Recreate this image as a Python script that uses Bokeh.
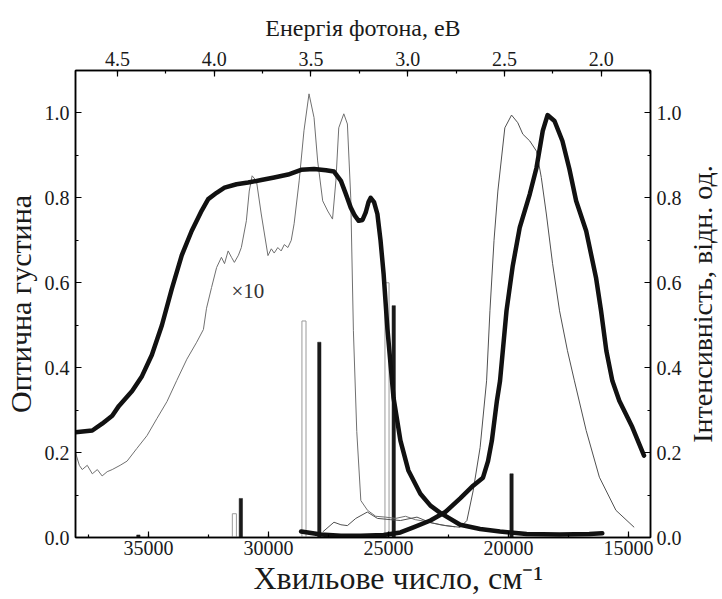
from bokeh.plotting import figure
from bokeh.models import (Range1d, LinearAxis, SingleIntervalTicker, NumeralTickFormatter,
                          Label, Title)
from bokeh.layouts import row
from bokeh.embed import file_html
from bokeh.resources import INLINE

# ---------------- data ----------------
# thick absorption curve (optical density, left axis)
abs_wn = [38040, 37340, 36930, 36510, 36230, 35680, 35270, 34860, 34440, 34030,
          33610, 33200, 32780, 32510, 32160, 31830, 31330, 30850, 30300, 29760,
          29180, 28640, 28100, 27600, 27270, 26980, 26780, 26570, 26400, 26240,
          26080, 25950, 25830, 25740, 25600, 25460, 25330, 25200, 25040, 24790,
          24500, 24170, 23670, 23250, 22840, 22010, 21180, 20350, 19240, 17870,
          16630, 16090]
abs_od = [0.248, 0.252, 0.268, 0.287, 0.31, 0.345, 0.38, 0.43, 0.50, 0.585,
          0.665, 0.722, 0.77, 0.797, 0.812, 0.824, 0.832, 0.836, 0.842, 0.848,
          0.855, 0.866, 0.868, 0.865, 0.862, 0.84, 0.81, 0.777, 0.758, 0.746,
          0.748, 0.765, 0.79, 0.80, 0.79, 0.762, 0.70, 0.62, 0.49, 0.33,
          0.228, 0.158, 0.103, 0.075, 0.058, 0.03, 0.02, 0.014, 0.008, 0.007,
          0.008, 0.01]

# thin absorption curve, x10
abs10_wn = [38040, 37880, 37760, 37550, 37340, 37130, 36930, 36720, 36510, 36180,
            35890, 35480, 35060, 34650, 34230, 33820, 33400, 32990, 32710, 32580,
            32370, 32160, 31960, 31830, 31680, 31540, 31420, 31250, 31130, 30920,
            30800, 30680, 30500, 30300, 30020, 29880, 29760, 29610, 29470, 29340,
            29190, 29050, 28930, 28720, 28520, 28310, 28100, 27950, 27740, 27530,
            27330, 27190, 27070, 26860, 26710, 26570, 26460, 26320, 26150, 25870,
            25530, 25120, 24700, 24290, 23880, 23460, 22840, 22220]
abs10_od = [0.2, 0.17, 0.16, 0.17, 0.15, 0.16, 0.145, 0.155, 0.16, 0.17,
            0.18, 0.21, 0.24, 0.28, 0.32, 0.37, 0.42, 0.46, 0.49, 0.54,
            0.589, 0.636, 0.66, 0.645, 0.675, 0.66, 0.648, 0.665, 0.683, 0.746,
            0.816, 0.852, 0.84, 0.762, 0.664, 0.68, 0.67, 0.683, 0.675, 0.69,
            0.683, 0.70, 0.739, 0.84, 0.958, 1.045, 0.989, 0.887, 0.793, 0.769,
            0.75, 0.84, 0.965, 0.998, 0.974, 0.80, 0.487, 0.25, 0.087, 0.064,
            0.05, 0.048, 0.045, 0.05, 0.042, 0.038, 0.03, 0.025]

# thick emission curve (intensity, right axis)
em_wn = [28640, 27810, 26980, 26150, 25200, 24500, 23960, 23250, 22630, 22010,
         21470, 21060, 20850, 20690, 20480, 20350, 20080, 19820, 19530, 19110,
         18830, 18570, 18370, 18080, 17750, 17460, 17180, 16760, 16350, 16140,
         15920, 15670, 15380, 14840, 14350]
em_int = [0.014, 0.007, 0.004, 0.004, 0.006, 0.012, 0.024, 0.04, 0.06, 0.092,
          0.122, 0.141, 0.18, 0.228, 0.322, 0.369, 0.534, 0.64, 0.73, 0.809,
          0.871, 0.958, 0.995, 0.981, 0.934, 0.868, 0.793, 0.722, 0.612, 0.534,
          0.44, 0.369, 0.322, 0.26, 0.193]

# thin emission curve
em2_wn = [27740, 27270, 26980, 26710, 26360, 25880, 25460, 24910, 24500, 23810,
          23250, 22630, 22010, 21730, 21470, 21180, 20910, 20770, 20600, 20440,
          20150, 19870, 19610, 19400, 19110, 18830, 18630, 18420, 18160, 17870,
          17540, 17250, 16760, 16210, 15520, 14760]
em2_int = [0.013, 0.036, 0.03, 0.028, 0.045, 0.06, 0.045, 0.042, 0.04, 0.048,
           0.035, 0.028, 0.024, 0.04, 0.11, 0.212, 0.369, 0.534, 0.70, 0.816,
           0.965, 0.995, 0.977, 0.95, 0.934, 0.91, 0.848, 0.762, 0.645, 0.534,
           0.44, 0.369, 0.252, 0.142, 0.064, 0.024]

# calculated transitions
open_wn = [31420, 28520, 25060]
open_h = [0.056, 0.51, 0.60]
solid_wn = [35420, 31150, 27880, 24780, 19870]
solid_h = [0.006, 0.092, 0.46, 0.546, 0.15]

# texts
x_title = "Хвильове число, см⁻¹"
top_title = "Енергія фотона, eB"
left_title = "Оптична густина"
right_title = "Інтенсивність, відн. од."
scale_note = "×10"

EV = 8065.54            # cm-1 per eV
X_START, X_END = 38040, 14080
FONT = "Liberation Serif"
INK = "#1a1a1a"

p = figure(width=684, height=599, output_backend="svg", toolbar_location=None,
           x_range=Range1d(X_START, X_END), y_range=Range1d(0, 1.1),
           min_border_left=73, min_border_right=32, min_border_top=70,
           min_border_bottom=62, x_axis_location=None, y_axis_location=None)
p.extra_x_ranges = {"ev": Range1d(X_START / EV, X_END / EV)}
p.extra_y_ranges = {"int": Range1d(0, 1.1)}
p.grid.visible = False
p.outline_line_color = "black"
p.outline_line_width = 1.5
p.background_fill_color = "white"
p.border_fill_color = "white"

bottom = LinearAxis()
left = LinearAxis()
top_axis = LinearAxis(x_range_name="ev")
right_axis = LinearAxis(y_range_name="int")
p.add_layout(bottom, "below")
p.add_layout(left, "left")
p.add_layout(top_axis, "above")
p.add_layout(right_axis, "right")

def style(ax, standoff, label_standoff, title_size):
    ax.axis_line_color = "black"
    ax.axis_line_width = 1.5
    ax.major_tick_in = 6
    ax.major_tick_out = 0
    ax.minor_tick_in = 3
    ax.minor_tick_out = 0
    ax.major_tick_line_width = 1.2
    ax.minor_tick_line_width = 1.2
    ax.major_label_text_font = FONT
    ax.major_label_text_font_size = "20px"
    ax.major_label_text_color = INK
    ax.major_label_standoff = standoff
    ax.axis_label_text_font = FONT
    ax.axis_label_text_font_size = title_size
    ax.axis_label_text_font_style = "normal"
    ax.axis_label_text_color = INK
    ax.axis_label_standoff = label_standoff

style(bottom, 3, 0, "29px")
style(left, 6, 5, "30px")
style(top_axis, 5, 8, "24px")
style(right_axis, 6, 0, "23px")

bottom.ticker = SingleIntervalTicker(interval=5000, num_minor_ticks=2)
bottom.formatter = NumeralTickFormatter(format="0")

top_axis.ticker = SingleIntervalTicker(interval=0.5, num_minor_ticks=2)
top_axis.formatter = NumeralTickFormatter(format="0.0")
top_axis.axis_label = top_title

left.ticker = SingleIntervalTicker(interval=0.2, num_minor_ticks=2)
left.formatter = NumeralTickFormatter(format="0.0")
left.axis_label = left_title

right_axis.ticker = SingleIntervalTicker(interval=0.2, num_minor_ticks=2)
right_axis.formatter = NumeralTickFormatter(format="0.0")

# bottom axis title, shifted right as in the original
p.add_layout(Title(text=x_title, align="left", offset=178, standoff=0,
                   text_font=FONT, text_font_size="32px", text_font_style="normal",
                   text_color=INK), "below")

# bars
p.vbar(x=open_wn, top=open_h, bottom=0, width=170, fill_color="white",
       fill_alpha=0.0, line_color="#9a9a9a", line_width=1, y_range_name="int")
p.vbar(x=solid_wn, top=solid_h, bottom=0, width=140, fill_color=INK,
       line_color=INK, line_width=0.5, y_range_name="int")

# curves
p.line(abs10_wn, abs10_od, line_color="#707070", line_width=1)
p.line(em2_wn, em2_int, line_color="#505050", line_width=1, y_range_name="int")
p.line(abs_wn, abs_od, line_color="#111111", line_width=4.5, line_join="round", line_cap="round")
p.line(em_wn, em_int, line_color="#111111", line_width=4.5, line_join="round",
       line_cap="round", y_range_name="int")

p.add_layout(Label(x=31540, y=0.58, text=scale_note, text_font=FONT, text_font_size="21px",
                   text_color="#333333", text_baseline="middle", text_align="left"))

# narrow companion figure carrying the right-hand title (reads bottom-to-top)
p2 = figure(width=38, height=599, output_backend="svg", toolbar_location=None,
            min_border_left=0, min_border_right=0, min_border_top=70,
            min_border_bottom=62, x_axis_location=None, y_axis_location=None)
p2.grid.visible = False
p2.outline_line_color = None
p2.background_fill_color = "white"
p2.border_fill_color = "white"
p2.add_layout(Title(text=right_title, align="center", offset=40, standoff=0,
                    text_font=FONT, text_font_size="28px", text_font_style="normal",
                    text_color=INK), "left")

layout = row(p, p2)
open("out.html", "w").write(file_html(layout, INLINE))
